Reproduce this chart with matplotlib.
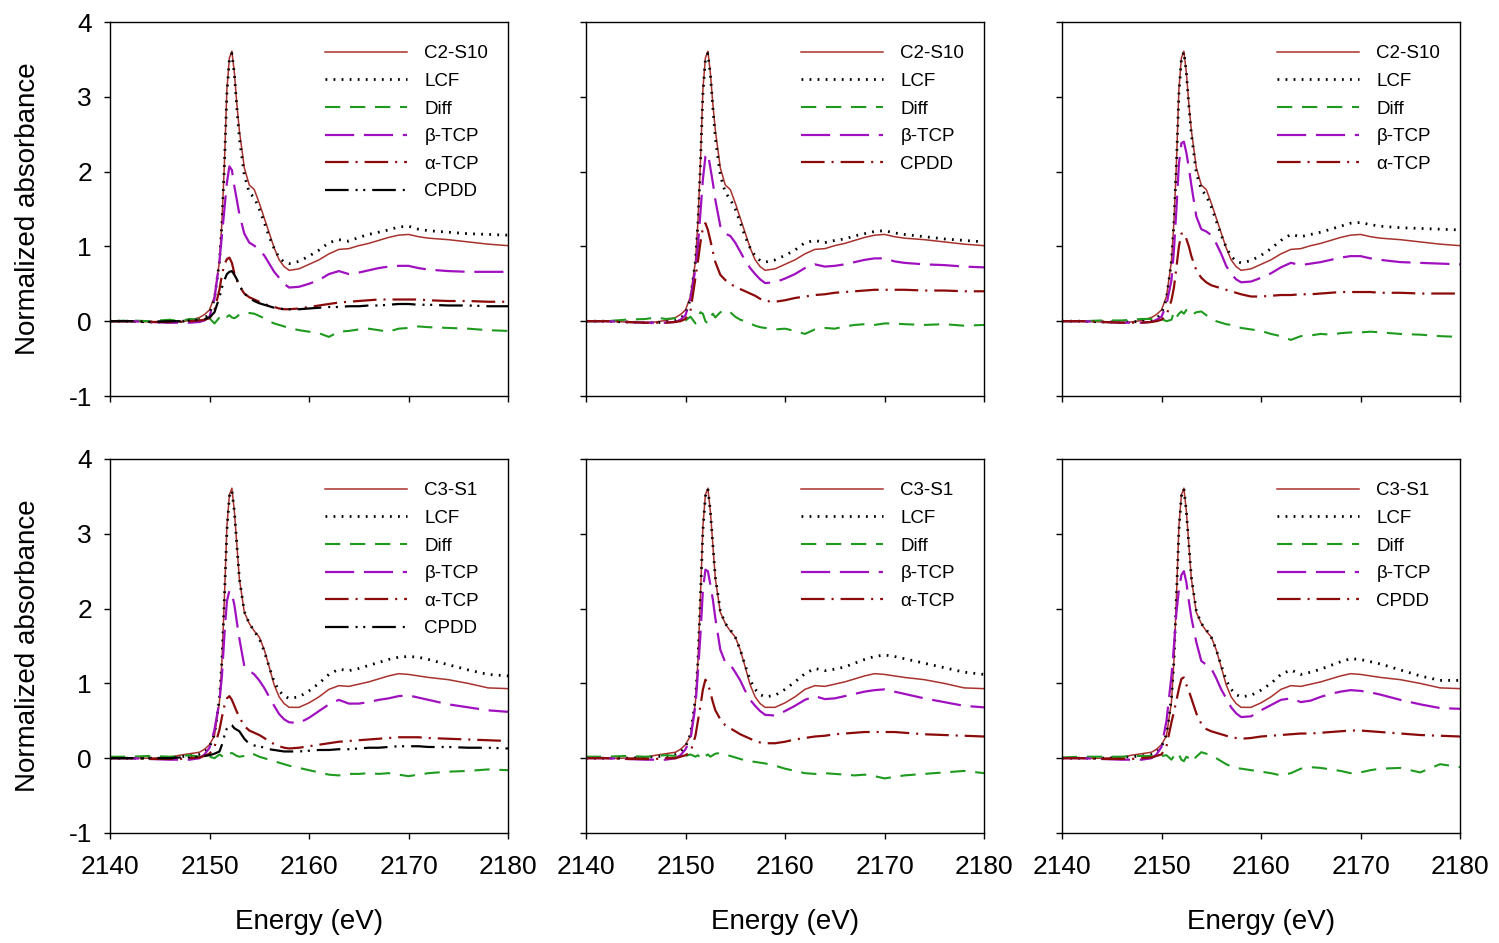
import numpy as np
import matplotlib.pyplot as plt

plt.rcParams['font.family'] = ['Liberation Sans', 'DejaVu Sans']
plt.rcParams['lines.scale_dashes'] = False
plt.rcParams['axes.unicode_minus'] = False

# ===== Данные =====
energy = [2140, 2142, 2144, 2146, 2147, 2148, 2149, 2149.5, 2150, 2150.5,
          2151, 2151.25, 2151.5, 2151.75, 2152, 2152.25, 2152.5, 2152.75, 2153, 2153.5,
          2154, 2154.5, 2155, 2155.5, 2156, 2156.5, 2157, 2157.5, 2158, 2159,
          2160, 2161, 2162, 2163, 2164, 2165, 2166, 2167, 2168, 2169,
          2170, 2171, 2172, 2174, 2176, 2178, 2180]

# образцы
c2s10 = [0.0, 0.0, -0.01, -0.02, -0.01, 0.01, 0.05, 0.09, 0.15, 0.33,
         0.8, 1.33, 2.11, 3.1, 3.52, 3.61, 3.32, 2.9, 2.55, 2.05,
         1.82, 1.76, 1.58, 1.38, 1.18, 0.98, 0.82, 0.73, 0.68, 0.70,
         0.76, 0.82, 0.90, 0.96, 0.97, 1.01, 1.04, 1.08, 1.12, 1.15,
         1.16, 1.13, 1.11, 1.09, 1.06, 1.03, 1.01]
c3s1 = [0.0, 0.0, 0.0, 0.01, 0.04, 0.06, 0.08, 0.12, 0.18, 0.3,
        0.75, 1.3, 2.15, 3.1, 3.52, 3.61, 3.3, 2.85, 2.4, 1.95,
        1.8, 1.7, 1.62, 1.45, 1.22, 0.98, 0.82, 0.73, 0.68, 0.68,
        0.74, 0.82, 0.92, 0.97, 0.96, 0.99, 1.02, 1.06, 1.1, 1.13,
        1.12, 1.1, 1.08, 1.05, 1.0, 0.94, 0.93]

# панель 1: C2-S10, β-TCP + α-TCP + CPDD
p1_lcf = [0.0, 0.0, -0.01, -0.01, 0.0, 0.0, 0.02, 0.04, 0.1, 0.3,
          0.8, 1.3, 2.1, 3.05, 3.5, 3.58, 3.3, 2.85, 2.45, 1.95,
          1.72, 1.65, 1.5, 1.32, 1.13, 0.97, 0.85, 0.79, 0.77, 0.80,
          0.87, 0.95, 1.05, 1.09, 1.07, 1.12, 1.16, 1.19, 1.22, 1.26,
          1.27, 1.23, 1.21, 1.19, 1.17, 1.16, 1.15]
p1_diff = [0.0, 0.01, 0.0, 0.02, 0.0, 0.03, 0.02, 0.04, 0.04, -0.03,
           0.05, 0.10, 0.08, 0.06, 0.08, 0.05, 0.04, 0.06, 0.09, 0.11,
           0.11, 0.10, 0.07, 0.04, 0.0, -0.03, -0.05, -0.07, -0.09, -0.12,
           -0.14, -0.16, -0.21, -0.14, -0.13, -0.11, -0.10, -0.12, -0.14, -0.10,
           -0.09, -0.07, -0.08, -0.09, -0.10, -0.12, -0.13]
p1_btcp = [0.0, 0.0, -0.01, -0.02, -0.02, -0.02, -0.01, 0.01, 0.06, 0.3,
           0.8, 1.15, 1.5, 1.85, 2.07, 2.02, 1.8, 1.62, 1.43, 1.17,
           1.05, 1.01, 0.95, 0.88, 0.77, 0.66, 0.58, 0.50, 0.45, 0.46,
           0.50, 0.55, 0.63, 0.67, 0.63, 0.65, 0.68, 0.71, 0.73, 0.74,
           0.74, 0.71, 0.69, 0.67, 0.66, 0.66, 0.66]
p1_atcp = [0.0, 0.0, -0.01, -0.01, -0.01, 0.0, 0.01, 0.02, 0.04, 0.15,
           0.42, 0.62, 0.76, 0.83, 0.85, 0.78, 0.64, 0.55, 0.47, 0.37,
           0.32, 0.29, 0.26, 0.23, 0.21, 0.19, 0.17, 0.16, 0.16, 0.17,
           0.19, 0.21, 0.23, 0.25, 0.26, 0.27, 0.28, 0.29, 0.29, 0.29,
           0.29, 0.29, 0.28, 0.27, 0.27, 0.26, 0.26]
p1_cpdd = [0.0, 0.0, -0.01, 0.0, 0.0, 0.01, 0.02, 0.03, 0.05, 0.12,
           0.32, 0.45, 0.55, 0.63, 0.66, 0.67, 0.62, 0.56, 0.48, 0.37,
           0.31, 0.27, 0.24, 0.22, 0.2, 0.18, 0.17, 0.16, 0.16, 0.16,
           0.17, 0.18, 0.19, 0.19, 0.2, 0.2, 0.21, 0.21, 0.22, 0.23,
           0.23, 0.22, 0.22, 0.21, 0.21, 0.2, 0.2]

# панель 2: C2-S10, β-TCP + CPDD
p2_lcf = [0.0, 0.0, -0.01, -0.02, -0.02, -0.01, 0.01, 0.04, 0.1, 0.3,
          0.8, 1.3, 2.1, 3.05, 3.5, 3.58, 3.3, 2.85, 2.45, 1.95,
          1.72, 1.63, 1.5, 1.32, 1.13, 0.98, 0.87, 0.81, 0.79, 0.82,
          0.88, 0.95, 1.05, 1.08, 1.05, 1.08, 1.1, 1.14, 1.17, 1.2,
          1.21, 1.18, 1.16, 1.13, 1.1, 1.08, 1.06]
p2_diff = [0.0, 0.0, 0.02, 0.03, 0.05, 0.03, 0.04, 0.03, 0.01, 0.06,
           -0.03, 0.05, 0.12, 0.1, 0.0, -0.03, 0.06, 0.1, 0.05, 0.12,
           0.15, 0.12, 0.06, 0.02, 0.0, -0.03, -0.06, -0.08, -0.09, -0.11,
           -0.1, -0.13, -0.17, -0.11, -0.09, -0.1, -0.07, -0.05, -0.04, -0.05,
           -0.03, -0.03, -0.04, -0.05, -0.04, -0.06, -0.05]
p2_btcp = [0.0, 0.0, -0.01, -0.02, -0.02, -0.02, -0.01, 0.02, 0.08, 0.3,
           0.7, 1.0, 1.45, 1.9, 2.2, 2.24, 2.05, 1.85, 1.62, 1.27,
           1.17, 1.14, 1.05, 0.93, 0.81, 0.71, 0.63, 0.56, 0.51, 0.52,
           0.57, 0.63, 0.71, 0.76, 0.73, 0.74, 0.76, 0.79, 0.82, 0.84,
           0.84, 0.8, 0.78, 0.76, 0.75, 0.73, 0.72]
p2_cpdd = [0.0, 0.0, -0.01, -0.02, -0.02, -0.02, -0.01, 0.0, 0.03, 0.14,
           0.58, 0.8, 1.05, 1.25, 1.31, 1.22, 1.08, 0.93, 0.79, 0.62,
           0.55, 0.5, 0.46, 0.43, 0.4, 0.37, 0.34, 0.3, 0.27, 0.26,
           0.28, 0.31, 0.33, 0.35, 0.36, 0.38, 0.39, 0.4, 0.41, 0.42,
           0.42, 0.42, 0.42, 0.41, 0.41, 0.4, 0.4]

# панель 3: C2-S10, β-TCP + α-TCP
p3_lcf = [0.0, 0.0, -0.01, -0.01, -0.01, 0.0, 0.02, 0.04, 0.1, 0.3,
          0.8, 1.3, 2.1, 3.05, 3.5, 3.6, 3.32, 2.88, 2.5, 1.98,
          1.76, 1.68, 1.53, 1.34, 1.15, 0.99, 0.87, 0.8, 0.78, 0.81,
          0.88, 0.97, 1.08, 1.16, 1.13, 1.16, 1.19, 1.23, 1.27, 1.31,
          1.32, 1.29, 1.27, 1.25, 1.24, 1.23, 1.22]
p3_diff = [0.0, 0.0, 0.01, 0.01, 0.02, 0.03, 0.03, 0.02, 0.03, 0.0,
           0.02, 0.12, 0.05, 0.1, 0.13, 0.1, 0.15, 0.1, 0.08, 0.12,
           0.13, 0.08, 0.04, 0.0, -0.02, -0.04, -0.05, -0.07, -0.09, -0.11,
           -0.13, -0.17, -0.2, -0.25, -0.2, -0.19, -0.17, -0.18, -0.16, -0.15,
           -0.15, -0.14, -0.15, -0.17, -0.18, -0.2, -0.21]
p3_btcp = [0.0, 0.0, -0.01, -0.02, -0.02, -0.02, -0.01, 0.02, 0.06, 0.22,
           0.55, 0.95, 1.5, 2.1, 2.38, 2.4, 2.25, 2.05, 1.82, 1.4,
           1.23, 1.2, 1.15, 1.04, 0.9, 0.74, 0.63, 0.56, 0.52, 0.53,
           0.58, 0.64, 0.72, 0.78, 0.75, 0.77, 0.79, 0.82, 0.85, 0.87,
           0.87, 0.84, 0.82, 0.79, 0.78, 0.77, 0.76]
p3_atcp = [0.0, 0.0, -0.01, -0.02, -0.02, -0.02, -0.01, 0.0, 0.02, 0.08,
           0.28, 0.45, 0.72, 1.0, 1.17, 1.18, 1.1, 1.0, 0.87, 0.68,
           0.58, 0.52, 0.48, 0.46, 0.44, 0.42, 0.4, 0.38, 0.36, 0.33,
           0.33, 0.34, 0.35, 0.35, 0.36, 0.36, 0.37, 0.38, 0.39, 0.39,
           0.39, 0.39, 0.38, 0.38, 0.37, 0.37, 0.37]

# панель 4: C3-S1, β-TCP + α-TCP + CPDD
p4_lcf = [0.0, 0.0, 0.0, 0.0, 0.02, 0.03, 0.05, 0.08, 0.15, 0.32,
          0.8, 1.3, 2.15, 3.05, 3.5, 3.58, 3.3, 2.85, 2.4, 1.96,
          1.8, 1.7, 1.6, 1.43, 1.22, 1.02, 0.9, 0.83, 0.8, 0.82,
          0.9, 1.0, 1.12, 1.19, 1.17, 1.2, 1.24, 1.28, 1.32, 1.35,
          1.36, 1.35, 1.32, 1.25, 1.18, 1.12, 1.1]
p4_diff = [0.02, 0.02, 0.03, 0.02, 0.03, 0.04, 0.02, 0.03, 0.02, 0.0,
           0.05, 0.03, 0.0, 0.02, 0.06, 0.07, 0.05, 0.03, 0.02, 0.03,
           0.07, 0.05, 0.02, 0.0, -0.02, -0.04, -0.06, -0.08, -0.1, -0.13,
           -0.16, -0.19, -0.22, -0.23, -0.21, -0.21, -0.2, -0.21, -0.2, -0.22,
           -0.24, -0.22, -0.2, -0.18, -0.17, -0.15, -0.16]
p4_btcp = [0.0, 0.0, -0.01, -0.02, -0.02, -0.02, 0.0, 0.05, 0.14, 0.38,
           0.76, 1.1, 1.65, 2.1, 2.24, 2.2, 2.05, 1.82, 1.6, 1.23,
           1.17, 1.12, 1.04, 0.94, 0.82, 0.7, 0.59, 0.52, 0.48, 0.47,
           0.54, 0.63, 0.72, 0.78, 0.73, 0.73, 0.75, 0.78, 0.8, 0.83,
           0.84, 0.81, 0.78, 0.72, 0.68, 0.64, 0.62]
p4_atcp = [0.0, 0.0, -0.01, -0.01, -0.01, 0.0, 0.01, 0.03, 0.06, 0.15,
           0.38, 0.55, 0.7, 0.8, 0.83, 0.78, 0.7, 0.62, 0.55, 0.43,
           0.37, 0.34, 0.31, 0.27, 0.22, 0.19, 0.16, 0.14, 0.13, 0.14,
           0.16, 0.18, 0.2, 0.22, 0.23, 0.24, 0.25, 0.26, 0.27, 0.28,
           0.28, 0.28, 0.27, 0.26, 0.25, 0.24, 0.23]
p4_cpdd = [0.0, 0.0, 0.0, 0.0, 0.01, 0.01, 0.02, 0.03, 0.04, 0.06,
           0.09, 0.18, 0.3, 0.4, 0.45, 0.44, 0.4, 0.38, 0.36, 0.26,
           0.19, 0.17, 0.16, 0.14, 0.12, 0.11, 0.1, 0.09, 0.09, 0.09,
           0.1, 0.11, 0.11, 0.12, 0.12, 0.13, 0.14, 0.14, 0.15, 0.16,
           0.16, 0.16, 0.15, 0.15, 0.14, 0.14, 0.13]

# панель 5: C3-S1, β-TCP + α-TCP
p5_lcf = [0.0, 0.0, 0.0, 0.01, 0.02, 0.03, 0.05, 0.08, 0.15, 0.32,
          0.8, 1.3, 2.15, 3.05, 3.5, 3.6, 3.3, 2.85, 2.42, 1.97,
          1.8, 1.72, 1.62, 1.45, 1.24, 1.04, 0.92, 0.85, 0.82, 0.84,
          0.92, 1.02, 1.13, 1.2, 1.17, 1.19, 1.22, 1.27, 1.32, 1.36,
          1.38, 1.36, 1.33, 1.27, 1.21, 1.15, 1.12]
p5_diff = [0.02, 0.02, 0.03, 0.02, 0.03, 0.04, 0.03, 0.04, 0.03, 0.05,
           0.02, 0.04, 0.0, -0.02, 0.03, 0.05, 0.02, 0.04, 0.06, 0.07,
           0.05, 0.03, 0.01, -0.01, -0.03, -0.04, -0.05, -0.06, -0.07, -0.1,
           -0.14, -0.17, -0.2, -0.21, -0.2, -0.21, -0.22, -0.23, -0.22, -0.24,
           -0.27, -0.25, -0.23, -0.21, -0.19, -0.17, -0.2]
p5_btcp = [0.0, 0.0, -0.01, -0.02, -0.02, -0.02, 0.0, 0.04, 0.12, 0.25,
           0.7, 1.15, 1.65, 2.25, 2.52, 2.5, 2.32, 2.12, 1.87, 1.45,
           1.28, 1.25, 1.15, 1.04, 0.9, 0.78, 0.7, 0.63, 0.58, 0.57,
           0.63, 0.7, 0.78, 0.83, 0.79, 0.8, 0.83, 0.86, 0.89, 0.91,
           0.92, 0.89, 0.86, 0.8, 0.75, 0.7, 0.68]
p5_atcp = [0.0, 0.0, -0.01, -0.01, -0.01, 0.0, 0.0, 0.02, 0.04, 0.08,
           0.3, 0.5, 0.7, 0.92, 1.05, 1.0, 0.88, 0.75, 0.64, 0.52,
           0.44, 0.4, 0.36, 0.32, 0.29, 0.26, 0.23, 0.21, 0.2, 0.2,
           0.22, 0.25, 0.27, 0.29, 0.3, 0.32, 0.33, 0.34, 0.35, 0.35,
           0.35, 0.35, 0.34, 0.32, 0.31, 0.3, 0.29]

# панель 6: C3-S1, β-TCP + CPDD
p6_lcf = [0.0, 0.0, 0.0, 0.01, 0.02, 0.03, 0.05, 0.08, 0.15, 0.32,
          0.8, 1.3, 2.15, 3.05, 3.5, 3.6, 3.3, 2.85, 2.42, 1.97,
          1.8, 1.72, 1.62, 1.45, 1.24, 1.04, 0.92, 0.85, 0.82, 0.84,
          0.91, 1.0, 1.12, 1.18, 1.12, 1.15, 1.19, 1.24, 1.29, 1.33,
          1.32, 1.29, 1.26, 1.18, 1.1, 1.04, 1.04]
p6_diff = [0.01, 0.02, 0.02, 0.02, 0.03, 0.03, 0.03, 0.02, 0.03, 0.04,
           -0.02, 0.03, 0.0, 0.05, -0.02, -0.04, 0.02, 0.0, -0.05, 0.02,
           0.08, 0.06, 0.04, 0.0, -0.04, -0.08, -0.11, -0.13, -0.14, -0.16,
           -0.18, -0.2, -0.23, -0.2, -0.14, -0.12, -0.13, -0.15, -0.17, -0.2,
           -0.19, -0.16, -0.14, -0.13, -0.19, -0.08, -0.12]
p6_btcp = [0.0, 0.0, -0.01, -0.02, -0.02, -0.02, 0.0, 0.05, 0.15, 0.5,
           1.1, 1.5, 1.95, 2.25, 2.45, 2.5, 2.35, 2.1, 1.88, 1.55,
           1.3, 1.25, 1.2, 1.07, 0.92, 0.8, 0.68, 0.6, 0.55, 0.56,
           0.64, 0.71, 0.78, 0.8, 0.75, 0.77, 0.82, 0.86, 0.89, 0.91,
           0.9, 0.88, 0.85, 0.78, 0.72, 0.67, 0.66]
p6_cpdd = [0.0, 0.0, -0.01, -0.01, -0.01, 0.0, 0.01, 0.03, 0.05, 0.16,
           0.48, 0.62, 0.77, 0.93, 1.06, 1.08, 0.98, 0.9, 0.8, 0.6,
           0.46, 0.39, 0.36, 0.34, 0.32, 0.3, 0.28, 0.27, 0.26, 0.27,
           0.29, 0.3, 0.31, 0.32, 0.33, 0.33, 0.34, 0.35, 0.36, 0.37,
           0.37, 0.36, 0.35, 0.33, 0.31, 0.3, 0.29]

# ===== Стили линий (по порядку в легенде) =====
styles = [
    dict(color='#a8322d', lw=1.1, ls='-'),                                 # образец
    dict(color='black', lw=2.0, ls=(0, (1.3, 4.5))),                       # LCF
    dict(color='#1e9a1e', lw=1.5, ls=(0, (11, 7))),                        # Diff
    dict(color='#a010c0', lw=1.6, ls=(0, (21, 7))),                        # β-TCP
    dict(color='#8b0a0a', lw=1.6, ls=(0, (17, 5, 1.5, 5))),                # 4-й компонент
    dict(color='black', lw=1.6, ls=(0, (17, 5, 1.5, 4, 1.5, 5))),          # 5-й компонент
]

panels = [
    ('C2-S10', c2s10, [p1_lcf, p1_diff, p1_btcp, p1_atcp, p1_cpdd], ['LCF', 'Diff', 'β-TCP', 'α-TCP', 'CPDD']),
    ('C2-S10', c2s10, [p2_lcf, p2_diff, p2_btcp, p2_cpdd], ['LCF', 'Diff', 'β-TCP', 'CPDD']),
    ('C2-S10', c2s10, [p3_lcf, p3_diff, p3_btcp, p3_atcp], ['LCF', 'Diff', 'β-TCP', 'α-TCP']),
    ('C3-S1', c3s1, [p4_lcf, p4_diff, p4_btcp, p4_atcp, p4_cpdd], ['LCF', 'Diff', 'β-TCP', 'α-TCP', 'CPDD']),
    ('C3-S1', c3s1, [p5_lcf, p5_diff, p5_btcp, p5_atcp], ['LCF', 'Diff', 'β-TCP', 'α-TCP']),
    ('C3-S1', c3s1, [p6_lcf, p6_diff, p6_btcp, p6_cpdd], ['LCF', 'Diff', 'β-TCP', 'CPDD']),
]

W, H = 1499, 943
fig = plt.figure(figsize=(W / 100, H / 100), dpi=100)

lefts = [110, 586, 1062]
tops = [22, 459]
aw, ah = 398, 374

for i, (name, sample, comps, labels) in enumerate(panels):
    row, col = divmod(i, 3)
    ax = fig.add_axes([lefts[col] / W, 1 - (tops[row] + ah) / H, aw / W, ah / H])
    for series, lab, st in zip([sample] + comps, [name] + labels, styles):
        ax.plot(energy, series, label=lab, **st)

    ax.set_xlim(2140, 2180)
    ax.set_ylim(-1, 4)
    ax.set_xticks(np.arange(2140, 2181, 10))
    ax.set_yticks(np.arange(-1, 5, 1))
    ax.tick_params(direction='out', length=4, width=1, labelsize=19)
    ax.tick_params(axis='y', pad=9)
    ax.tick_params(axis='x', pad=12)
    if col > 0:
        ax.tick_params(labelleft=False)
    if row == 0:
        ax.tick_params(labelbottom=False)
    for sp in ax.spines.values():
        sp.set_linewidth(1.0)

    ax.legend(loc='upper left', bbox_to_anchor=(0.54, 0.938), frameon=False,
              fontsize=13.5, handlelength=4.4, handletextpad=0.9,
              labelspacing=0.56, borderpad=0, borderaxespad=0)

    if col == 0:
        fig.text(28 / W, 1 - (tops[row] + ah / 2) / H, 'Normalized absorbance',
                 rotation=90, ha='center', va='center', fontsize=20)
    if row == 1:
        fig.text((lefts[col] + aw / 2) / W, 1 - 922 / H, 'Energy (eV)',
                 ha='center', va='center', fontsize=20)

fig.savefig('out.png', dpi=100)
